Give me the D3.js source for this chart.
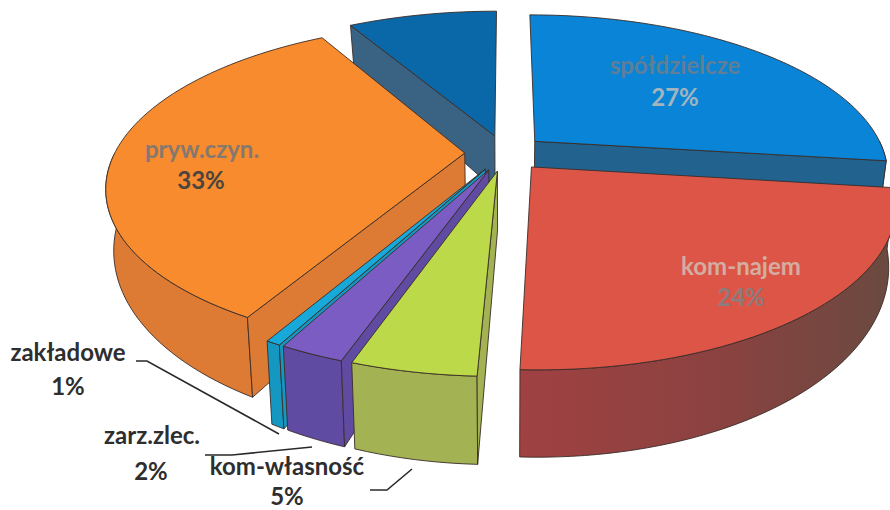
<!DOCTYPE html>
<html><head><meta charset="utf-8">
<script src="https://cdn.jsdelivr.net/npm/d3@7/dist/d3.min.js"></script>
<style>html,body{margin:0;background:#fff}svg{display:block}text{font-family:Lato,"Open Sans",sans-serif;text-anchor:middle}</style>
</head><body><svg id="c" width="890" height="510"></svg>
<script>
// Data (clockwise from 12 o'clock)
const categories = ["spółdzielcze","kom-najem","kom-własność","zarz.zlec.","zakładowe","pryw.czyn.",""];
const shares     = [27, 23.65, 4.6, 2.4, 0.55, 33.5, 8.3];
const pctLabels  = ["27%","24%","5%","2%","1%","33%",""];

// Styling / layout
const topColors  = ["#0a84d6","#dc5547","#bcd94a","#7a5cc2","#17a9da","#f78b2d","#0b68a8"];
const wallColors = ["#22628f","url(#redWall)","#a3b252","#5f4ba2","#1497c0","#dd7b35","#3a6283"];
const drawOrder  = [6,0,5,4,3,2,1];
const labelPos = [[675,66,675,98,"#5f7e97","#a3b4bf"],[741,267,741,298,"#d4ada1","#8e7b7c"],[287,467,287,497,"#2e2e2e","#2e2e2e"],
                  [152,436,151,472,"#2e2e2e","#2e2e2e"],[68,353,68,387,"#2e2e2e","#2e2e2e"],[202,150,201,181,"#85796f","#4b4540"]];
const leaders = [[[136,361],[147,361],[279,434]],[[205,455],[232,455],[312,447]],[[370,490],[387,490],[412,469]]];

const cx=505, cy=153, R=350, S=156, K=0.2, EXPL=0.115;
function project(a,r,em){ // a angle, r radial 0..1, em = mid angle of exploded slice
  const u=r*Math.sin(a)+EXPL*Math.sin(em), v=-r*Math.cos(a)-EXPL*Math.cos(em), w=1-K*v;
  return [cx+R*u/w, cy+S*v/w];
}
function down([x,y]){ return [x-0.02*(x-505), y+38+0.143*(y-25)]; }

const svg=d3.select("#c");
const grad=svg.append("defs").append("linearGradient").attr("id","redWall")
  .attr("gradientUnits","userSpaceOnUse").attr("x1",520).attr("x2",890).attr("y1",0).attr("y2",0);
grad.append("stop").attr("offset",0).attr("stop-color","#a04142");
grad.append("stop").attr("offset",.55).attr("stop-color","#8a4240");
grad.append("stop").attr("offset",1).attr("stop-color","#6a4a40");

const arcs=d3.pie().sort(null).value(d=>d)(shares);
const line=d3.line();
const closed=p=>line(p)+"Z";
const edge="#3a2c28";
const sampleRim=(from,to,em)=>{
  const n=Math.max(4,Math.ceil((to-from)/0.03));
  return d3.range(n+1).map(k=>project(from+(to-from)*k/n,1,em));
};

drawOrder.forEach(i=>{
  const {startAngle:a0,endAngle:a1}=arcs[i], em=(a0+a1)/2;
  const rim=sampleRim(a0,a1,em);
  const apex=project(a0,0,em);
  const g=svg.append("g");
  const face=(pts,fill)=>g.append("path").attr("d",closed(pts)).attr("fill",fill)
     .attr("stroke",edge).attr("stroke-width",0.9).attr("stroke-linejoin","round");
  // outer wall: only the part that faces the viewer
  const f0=Math.max(a0,Math.PI/2), f1=Math.min(a1,Math.PI*1.5);
  if(f1>f0){
    const r=sampleRim(f0,f1,em);
    face(r.concat(r.slice().reverse().map(down)),wallColors[i]);
  }
  // radial walls: only those that face the viewer
  if(Math.sin(a0)<-1e-6){ const p=rim[0]; face([apex,p,down(p),down(apex)],wallColors[i]); }
  if(Math.sin(a1)>1e-6){ const p=rim[rim.length-1]; face([apex,p,down(p),down(apex)],wallColors[i]); }
  face([apex].concat(rim),topColors[i]);
});

leaders.forEach(p=>svg.append("path").attr("d",line(p)).attr("fill","none").attr("stroke","#2a2a2a").attr("stroke-width",1.6));

categories.forEach((c,i)=>{
  if(!c) return;
  const [x1,y1,x2,y2,f1,f2]=labelPos[i];
  svg.append("text").attr("x",x1).attr("y",y1+8).attr("font-size",24).attr("font-weight",700).attr("fill",f1).text(c);
  svg.append("text").attr("x",x2).attr("y",y2+8).attr("font-size",24).attr("font-weight",700).attr("fill",f2).text(pctLabels[i]);
});
</script></body></html>
